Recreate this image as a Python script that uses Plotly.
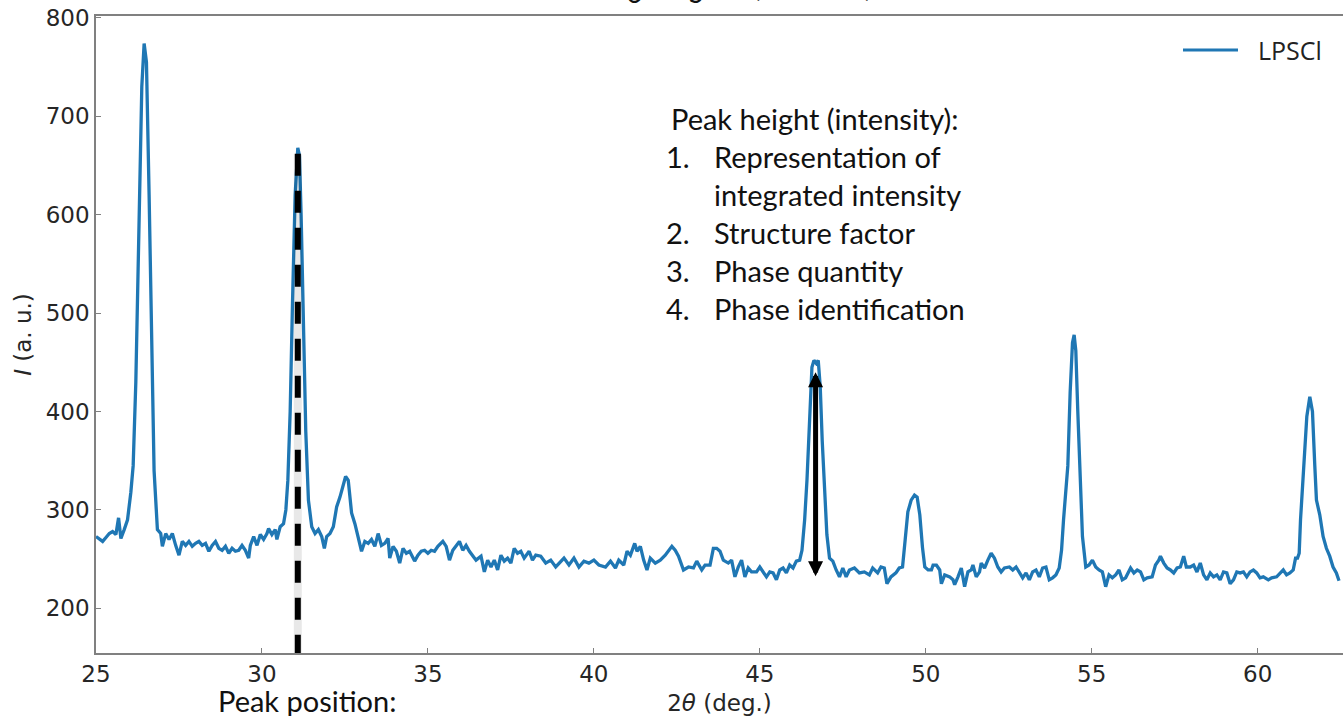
import plotly.graph_objects as go

# ---- XRD pattern of the LPSCl sample --------------------------------------
two_theta = [
    25.00, 25.10, 25.20, 25.30, 25.40, 25.50, 25.60, 25.68, 25.75, 25.85, 25.95, 26.05,
    26.12, 26.20, 26.30, 26.38, 26.45, 26.52, 26.60, 26.68, 26.75, 26.85, 26.95,
    27.00, 27.10, 27.20, 27.30, 27.40, 27.50, 27.60, 27.70, 27.80, 27.90,
    28.00, 28.10, 28.20, 28.30, 28.40, 28.50, 28.60, 28.70, 28.80, 28.90,
    29.00, 29.10, 29.20, 29.30, 29.40, 29.50, 29.60,
    29.65, 29.75, 29.85, 29.95, 30.05, 30.15, 30.20, 30.30, 30.40, 30.45, 30.55, 30.65,
    30.72, 30.78, 30.85, 30.92, 31.00, 31.08, 31.13, 31.18, 31.25, 31.32,
    31.40, 31.50, 31.60, 31.70, 31.80, 31.88, 31.95, 32.05, 32.15, 32.25,
    32.35, 32.45, 32.52, 32.60, 32.70, 32.80, 32.90,
    33.00, 33.10, 33.20, 33.30, 33.40, 33.50, 33.60, 33.70, 33.80,
    33.85, 33.95, 34.05, 34.15, 34.25, 34.35, 34.45,
    34.60, 34.70, 34.80, 34.90, 35.00, 35.10, 35.20, 35.30,
    35.45, 35.55, 35.65, 35.75, 35.85, 35.95, 36.05, 36.15, 36.25, 36.35, 36.45,
    36.60, 36.70, 36.80, 36.90, 37.00, 37.10, 37.20, 37.30, 37.40, 37.50, 37.60,
    37.70, 37.80, 37.90, 38.05, 38.15, 38.25, 38.40, 38.55, 38.70, 38.85,
    39.00, 39.10, 39.25, 39.40, 39.55, 39.70, 39.85,
    40.00, 40.15, 40.35, 40.50, 40.65, 40.75, 40.90,
    41.00, 41.10, 41.23, 41.30, 41.40, 41.50, 41.60, 41.70, 41.85,
    42.00, 42.15, 42.25, 42.35, 42.45, 42.55, 42.70, 42.85,
    43.00, 43.10, 43.25, 43.35, 43.50, 43.60, 43.70, 43.80, 43.90,
    44.05, 44.15, 44.25, 44.35, 44.45, 44.55, 44.65, 44.75, 44.90,
    45.00, 45.10, 45.20, 45.30, 45.40, 45.50, 45.60, 45.70, 45.80, 45.90,
    46.00, 46.10, 46.20, 46.27,
    46.35, 46.42, 46.50, 46.57, 46.63, 46.70, 46.76, 46.82, 46.88, 46.95,
    47.02, 47.10, 47.20, 47.30, 47.40, 47.50, 47.60, 47.70,
    47.85, 48.00, 48.15, 48.30, 48.40, 48.55, 48.65, 48.75, 48.83, 48.95, 49.10, 49.20, 49.30,
    49.38, 49.46, 49.56, 49.66, 49.74, 49.82, 49.90, 49.97,
    50.07, 50.17, 50.22, 50.32, 50.42, 50.47, 50.57, 50.72, 50.82, 50.87, 50.97,
    51.07, 51.17, 51.27, 51.37, 51.42, 51.52, 51.62, 51.67, 51.77, 51.87, 51.97,
    52.07, 52.17, 52.27, 52.37, 52.52, 52.62, 52.72, 52.82, 52.92,
    53.02, 53.12, 53.22, 53.32, 53.42, 53.52, 53.62, 53.72, 53.82, 53.92,
    54.02,
    54.09, 54.15, 54.22, 54.28, 54.35, 54.42, 54.47, 54.52, 54.58, 54.65, 54.72, 54.82,
    54.92, 55.02, 55.12, 55.22, 55.32, 55.42, 55.52, 55.62, 55.72, 55.82, 55.92,
    56.02, 56.17, 56.27, 56.37, 56.47, 56.57, 56.67, 56.82, 56.92,
    57.02, 57.07, 57.17, 57.27, 57.37, 57.47, 57.57, 57.67, 57.77, 57.85, 57.97,
    58.07, 58.17, 58.27, 58.37, 58.47, 58.57, 58.67, 58.77, 58.87, 58.97,
    59.07, 59.17, 59.27, 59.37, 59.47, 59.57, 59.67, 59.77, 59.87, 59.97,
    60.07, 60.17, 60.32, 60.42, 60.57, 60.67, 60.77, 60.87, 60.97,
    61.07,
    61.14, 61.20, 61.25, 61.29, 61.35, 61.40, 61.48, 61.57, 61.65, 61.72,
    61.77, 61.87, 61.97, 62.07, 62.17, 62.27, 62.37, 62.45,
]
intensity = [
    273, 270, 268, 272, 276, 278, 275, 292, 271, 280, 290, 318,
    345, 430, 600, 730, 774, 755, 620, 450, 340, 280, 276,
    263, 276, 270, 276, 264, 254, 268, 264, 268, 263,
    266, 268, 264, 266, 258, 264, 268, 261, 259, 263,
    256, 261, 258, 259, 264, 259, 251,
    264, 273, 264, 275, 270, 276, 281, 275, 280, 270, 283, 286,
    300, 330, 400, 510, 620, 668, 660, 600, 490, 380,
    310, 283, 276, 280, 273, 261, 273, 276, 283, 303,
    313, 327, 334, 330, 297, 286, 273,
    258, 268, 266, 270, 263, 276, 264, 266, 271,
    251, 263, 258, 246, 261, 256, 258,
    248, 254, 258, 259, 256, 259, 258, 263,
    268, 263, 249, 259, 264, 268, 259, 264, 258, 254, 249,
    253, 237, 249, 242, 249, 239, 254, 248, 251, 246, 261,
    256, 258, 251, 258, 249, 254, 253, 246, 249, 242,
    248, 251, 244, 251, 242, 248, 246,
    249, 244, 242, 248, 241, 249, 244,
    258, 254, 266, 258, 263, 249, 239, 251, 246,
    249, 254, 258, 263, 259, 253, 239, 242,
    241, 248, 239, 244, 244, 261, 261, 258, 249,
    246, 249, 232, 242, 249, 232, 241, 237, 237,
    242, 237, 232, 237, 236, 229, 239, 241, 236, 244,
    241, 248, 249, 259,
    290, 330, 400, 445, 452, 449, 452, 425, 370, 320,
    275, 251, 248, 239, 232, 241, 232, 239,
    241, 236, 237, 234, 241, 236, 242, 241, 225, 232, 236, 241, 242,
    270, 298, 310, 315, 313, 295, 262, 242,
    239, 239, 244, 244, 239, 225, 234, 232, 229, 224, 232,
    241, 222, 237, 239, 244, 232, 237, 246, 241, 249, 256,
    251, 242, 237, 241, 242, 239, 242, 236, 231,
    236, 229, 237, 239, 232, 241, 242, 229, 231, 234,
    241,
    259, 290, 320, 345, 420, 470, 478, 462, 400, 335, 273, 242,
    244, 249, 242, 239, 237, 222, 234, 231, 234, 239, 229,
    231, 241, 236, 239, 237, 229, 231, 232, 244,
    249, 253, 246, 241, 239, 236, 241, 242, 253, 242, 242,
    244, 237, 246, 234, 229, 236, 232, 234, 229, 237,
    236, 225, 229, 237, 236, 237, 232, 237, 239, 236,
    231, 232, 229, 231, 232, 236, 239, 234, 236,
    239,
    251, 251, 256, 290, 324, 345, 395, 415, 400, 345,
    310, 295, 273, 261, 253, 242, 236, 228,
]
series_name = "LPSCl"

# guide marks: peak position (dashed) and peak height (double arrow)
peak_position_x = 31.08
peak_position_top = 662
peak_height_x = 46.68
peak_height_range = [231, 440]

x_ticks = [25, 30, 35, 40, 45, 50, 55, 60]
y_ticks = [200, 300, 400, 500, 600, 700, 800]

x_range = [25, 62.57]
y_range = [154.6, 802]

height_notes = [
    ("", "Peak height (intensity):"),
    ("1.", "Representation of"),
    ("", "integrated intensity"),
    ("2.", "Structure factor"),
    ("3.", "Phase quantity"),
    ("4.", "Phase identification"),
]

# ---- figure geometry -------------------------------------------------------
W, H = 1343, 716
ML, MR, MT, MB = 96, 0, 16, 63
PW, PH = W - ML - MR, H - MT - MB


def px(xp):
    return (xp - ML) / PW


def py(yp):
    return (H - MB - yp) / PH


BLUE = "#1f77b4"
SPINE = "#808080"
TICKTXT = "#262626"
NOTE_FONT = dict(family="Lato", size=29, color="#111111")
AXIS_FONT = dict(family="DejaVu Sans", size=23, color=TICKTXT)

fig = go.Figure()

fig.add_trace(go.Scatter(
    x=two_theta, y=intensity, mode="lines", name=series_name,
    line=dict(color=BLUE, width=3.3), showlegend=False, hoverinfo="skip",
))

# faint shadow under the dashed guide, then the dashed guide itself
fig.add_trace(go.Scatter(
    x=[peak_position_x, peak_position_x], y=[peak_position_top, y_range[0]],
    mode="lines", line=dict(color="rgba(0,0,0,0.09)", width=8),
    showlegend=False, hoverinfo="skip",
))
fig.add_trace(go.Scatter(
    x=[peak_position_x, peak_position_x], y=[peak_position_top, y_range[0]],
    mode="lines", line=dict(color="black", width=6, dash="22px,15px"),
    showlegend=False, hoverinfo="skip",
))

annotations = []

# double-headed arrow spanning the peak height
annotations.append(dict(
    x=peak_height_x, y=peak_height_range[1], xref="x", yref="y",
    ax=peak_height_x, ay=peak_height_range[0], axref="x", ayref="y",
    text="", showarrow=True, arrowside="end+start",
    arrowhead=2, startarrowhead=2, arrowsize=0.6, startarrowsize=0.6,
    arrowwidth=5, arrowcolor="black", standoff=0, startstandoff=0,
))

# notes block on the right
line_y = [118, 156, 194, 232, 270, 308]
for (num, txt), yp in zip(height_notes, line_y):
    if num:
        annotations.append(dict(
            x=px(664), y=py(yp), xref="paper", yref="paper", text=num,
            showarrow=False, xanchor="left", yanchor="middle", font=NOTE_FONT,
        ))
        annotations.append(dict(
            x=px(712), y=py(yp), xref="paper", yref="paper", text=txt,
            showarrow=False, xanchor="left", yanchor="middle", font=NOTE_FONT,
        ))
    else:
        xl = 669 if yp == line_y[0] else 712
        annotations.append(dict(
            x=px(xl), y=py(yp), xref="paper", yref="paper", text=txt,
            showarrow=False, xanchor="left", yanchor="middle", font=NOTE_FONT,
        ))

annotations.append(dict(
    x=px(216), y=py(700), xref="paper", yref="paper", text="Peak position:",
    showarrow=False, xanchor="left", yanchor="middle", font=NOTE_FONT,
))

# title, running off the top edge
annotations.append(dict(
    x=px(735), y=py(11), xref="paper", yref="paper",
    text="Li<sub>6</sub>PS<sub>5</sub>Cl (LPSCl)",
    showarrow=False, xanchor="center", yanchor="bottom",
    font=dict(family="Lato", size=40, color="#111111"),
))

# legend entry
annotations.append(dict(
    x=px(1256), y=py(50), xref="paper", yref="paper", text=series_name,
    showarrow=False, xanchor="left", yanchor="middle",
    font=dict(family="Open Sans", size=25, color="#222222"),
))

shapes = [dict(
    type="line", xref="paper", yref="paper",
    x0=px(1183), x1=px(1238), y0=py(50), y1=py(50),
    line=dict(color=BLUE, width=3),
)]

fig.update_layout(
    width=W, height=H,
    margin=dict(l=ML, r=MR, t=MT, b=MB, autoexpand=False),
    paper_bgcolor="white", plot_bgcolor="white",
    showlegend=False,
    annotations=annotations,
    shapes=shapes,
    xaxis=dict(
        range=x_range, tickvals=x_ticks, ticks="inside", ticklen=5,
        tickcolor=SPINE, tickwidth=1.2,
        showline=True, linecolor=SPINE, linewidth=1.5, mirror=True,
        showgrid=False, zeroline=False,
        tickfont=AXIS_FONT,
        title=dict(text="2<i>θ</i> (deg.)", standoff=10, font=AXIS_FONT),
    ),
    yaxis=dict(
        range=y_range, tickvals=y_ticks, ticks="inside", ticklen=5,
        tickcolor=SPINE, tickwidth=1.2,
        showline=True, linecolor=SPINE, linewidth=1.5, mirror=False,
        showgrid=False, zeroline=False,
        tickfont=AXIS_FONT,
        title=dict(text="<i>I</i> (a. u.)", standoff=8, font=AXIS_FONT),
    ),
)

fig.write_html("out.html")
